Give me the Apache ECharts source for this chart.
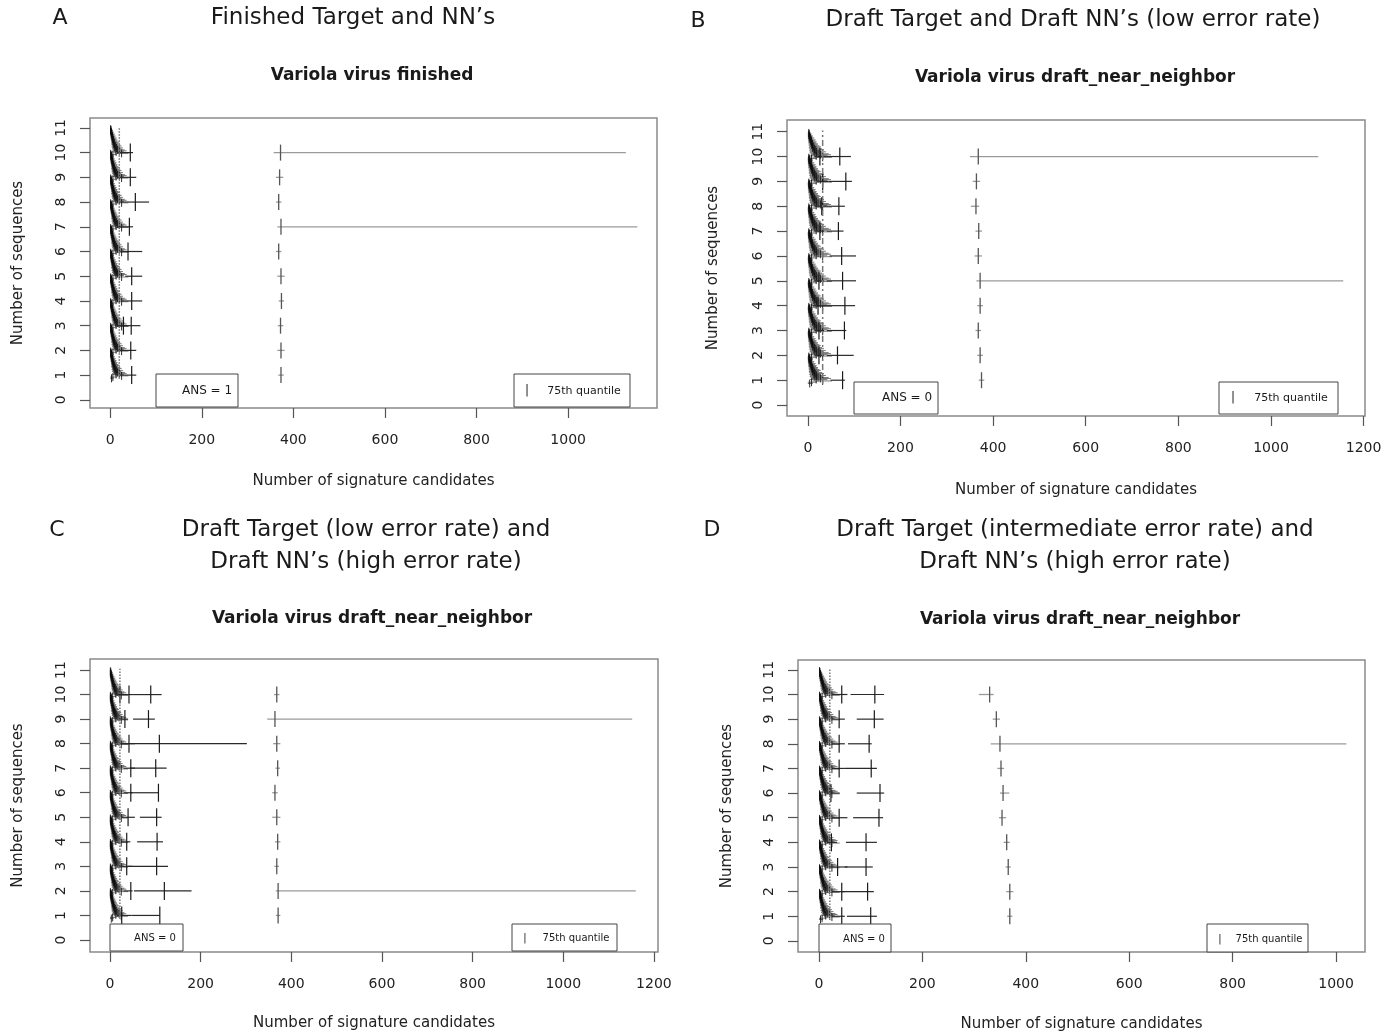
<!DOCTYPE html>
<html>
<head>
<meta charset="utf-8">
<title>Variola virus signature candidates</title>
<script src="https://cdn.jsdelivr.net/npm/echarts@6/dist/echarts.min.js"></script>
<style>html,body{margin:0;background:#fff}#main{width:1398px;height:1036px}</style>
</head>
<body>
<div id="main"></div>
<script>
// tick labels
var yTicks = [0, 1, 2, 3, 4, 5, 6, 7, 8, 9, 10, 11];
var xTicksA = [0, 200, 400, 600, 800, 1000];
var xTicksB = [0, 200, 400, 600, 800, 1000, 1200];
var xTicksC = [0, 200, 400, 600, 800, 1000, 1200];
var xTicksD = [0, 200, 400, 600, 800, 1000];

// small crosses stacked above each sequence row: [dy, quantile, low, high]
var clusterNarrow = [
  [0.95, 1, 0, 4], [0.91, 2, 0, 6], [0.87, 1, 0, 5], [0.83, 3, 0, 8],
  [0.79, 2, 0, 7], [0.75, 4, 1, 10], [0.71, 3, 0, 9], [0.67, 5, 1, 12],
  [0.63, 4, 1, 11], [0.59, 6, 1, 14], [0.55, 5, 1, 13], [0.51, 7, 2, 16],
  [0.47, 6, 2, 15], [0.43, 8, 2, 18], [0.39, 9, 3, 20], [0.35, 7, 2, 17],
  [0.31, 10, 3, 22], [0.27, 12, 4, 25], [0.23, 9, 3, 21], [0.19, 14, 5, 28],
  [0.15, 11, 4, 24], [0.11, 16, 6, 32], [0.07, 20, 8, 36], [0.03, 13, 5, 30],
  [-0.03, 25, 10, 40], [-0.08, 6, 0, 14], [-0.13, 3, 0, 8]
];
var clusterWide = [
  [0.95, 2, 0, 6], [0.91, 3, 0, 8], [0.87, 2, 0, 7], [0.83, 4, 0, 11],
  [0.79, 3, 0, 10], [0.75, 6, 1, 14], [0.71, 4, 0, 12], [0.67, 7, 1, 17],
  [0.63, 6, 1, 15], [0.59, 8, 1, 19], [0.55, 7, 1, 18], [0.51, 10, 2, 22],
  [0.47, 8, 2, 21], [0.43, 11, 2, 25], [0.39, 13, 3, 28], [0.35, 10, 2, 24],
  [0.31, 14, 3, 31], [0.27, 17, 4, 35], [0.23, 13, 3, 29], [0.19, 19, 5, 39],
  [0.15, 15, 4, 34], [0.11, 22, 6, 45], [0.07, 27, 8, 50], [0.03, 18, 5, 42],
  [-0.03, 32, 10, 52], [-0.08, 8, 0, 19], [-0.13, 4, 0, 11]
];

// larger crosses: [sequences, quantile, low, high]
var bigA = [
  [10, 44, 17, 50], [9, 44, 15, 57], [8, 55, 22, 85], [7, 42, 15, 50],
  [6, 39, 22, 70], [5, 47, 33, 70], [4, 47, 26, 70], [3, 46, 11, 66],
  [3, 29, 15, 40], [2, 45, 17, 57], [1, 47, 20, 57]
];
var quantA = [
  [10, 372, 357, 1126], [9, 370, 362, 378], [8, 368, 362, 374], [7, 373, 365, 1151],
  [6, 368, 362, 374], [5, 373, 365, 381], [4, 374, 368, 380], [3, 372, 366, 378],
  [2, 373, 365, 381], [1, 373, 367, 379]
];

var bigB = [
  [10, 69, 41, 93], [10, 26, 15, 41], [9, 82, 45, 95], [9, 32, 20, 45],
  [8, 67, 41, 80], [8, 30, 15, 41], [7, 66, 41, 77], [7, 26, 15, 35],
  [6, 73, 47, 104], [5, 75, 41, 104], [5, 24, 15, 35], [4, 80, 41, 102],
  [4, 22, 10, 41], [3, 79, 41, 83], [3, 24, 15, 35], [2, 64, 41, 99],
  [2, 24, 15, 35], [1, 75, 49, 80]
];
var quantB = [
  [10, 368, 350, 1102], [9, 364, 356, 372], [8, 363, 352, 370], [7, 369, 362, 376],
  [6, 368, 360, 376], [5, 372, 364, 1156], [4, 372, 366, 378], [3, 368, 362, 374],
  [2, 372, 366, 378], [1, 375, 369, 381]
];

var bigC = [
  [10, 90, 51, 114], [10, 42, 30, 51], [10, 22, 12, 32], [9, 85, 51, 99],
  [9, 33, 20, 40], [8, 109, 22, 302], [8, 42, 25, 55], [7, 101, 44, 125],
  [7, 46, 30, 55], [6, 107, 46, 107], [6, 46, 30, 50], [5, 103, 66, 114],
  [5, 40, 25, 55], [4, 104, 60, 117], [4, 37, 25, 45], [3, 103, 40, 128],
  [3, 37, 20, 50], [2, 120, 53, 180], [2, 46, 30, 50], [1, 110, 48, 110],
  [1, 26, 15, 48]
];
var quantC = [
  [10, 368, 362, 374], [9, 364, 347, 1152], [8, 368, 360, 376], [7, 370, 365, 375],
  [6, 364, 358, 370], [5, 368, 358, 376], [4, 370, 364, 376], [3, 368, 363, 373],
  [2, 371, 366, 1160], [1, 371, 366, 376]
];

var bigD = [
  [10, 108, 61, 126], [10, 44, 25, 55], [9, 107, 73, 125], [9, 39, 25, 50],
  [8, 97, 56, 102], [8, 39, 25, 50], [7, 101, 50, 112], [7, 39, 25, 50],
  [6, 118, 73, 126], [6, 23, 15, 40], [5, 116, 66, 124], [5, 39, 25, 55],
  [4, 91, 52, 112], [4, 24, 15, 35], [3, 91, 50, 104], [3, 36, 20, 55],
  [2, 94, 44, 106], [2, 44, 25, 50], [1, 100, 54, 112], [1, 44, 25, 50]
];
var quantD = [
  [10, 330, 309, 338], [9, 343, 336, 350], [8, 350, 332, 1020], [7, 352, 345, 358],
  [6, 356, 350, 368], [5, 354, 348, 362], [4, 363, 357, 369], [3, 366, 361, 371],
  [2, 369, 362, 376], [1, 369, 364, 374]
];

var rows = [1, 2, 3, 4, 5, 6, 7, 8, 9, 10];
// mean line position per panel
var meanA = 20, meanB = 32, meanC = 22, meanD = 21;

var FONT = '"DejaVu Sans", "Liberation Sans", Arial, sans-serif';

var panels = [
  { grid: { left: 90, top: 118, width: 567, height: 290 }, xMin: -44, xMax: 1194, yMin: -0.33, yMax: 11.4,
    xTicks: xTicksA, big: bigA, quant: quantA, cluster: clusterNarrow, mean: meanA, meanType: 'dotted', nameGapX: 66, nameGapY: 64 },
  { grid: { left: 787, top: 120, width: 578, height: 296 }, xMin: -45, xMax: 1203, yMin: -0.44, yMax: 11.47,
    xTicks: xTicksB, big: bigB, quant: quantB, cluster: clusterWide, mean: meanB, meanType: [6, 3, 2, 3], nameGapX: 67, nameGapY: 66 },
  { grid: { left: 90, top: 659, width: 568, height: 293 }, xMin: -44, xMax: 1209, yMin: -0.49, yMax: 11.45,
    xTicks: xTicksC, big: bigC, quant: quantC, cluster: clusterNarrow, mean: meanC, meanType: 'dotted', nameGapX: 64, nameGapY: 64 },
  { grid: { left: 798, top: 660, width: 567, height: 292 }, xMin: -40.6, xMax: 1056, yMin: -0.45, yMax: 11.4,
    xTicks: xTicksD, big: bigD, quant: quantD, cluster: clusterNarrow, mean: meanD, meanType: 'dotted', nameGapX: 65, nameGapY: 63 }
];

function crossRenderer(half, lineColor, tickColor, width) {
  return function (params, api) {
    var y = api.value(0);
    var q = api.coord([api.value(1), y]);
    var lo = api.coord([api.value(2), y]);
    var hi = api.coord([api.value(3), y]);
    return {
      type: 'group',
      children: [
        { type: 'line', shape: { x1: lo[0], y1: lo[1], x2: hi[0], y2: hi[1] },
          style: { stroke: lineColor, lineWidth: width } },
        { type: 'line', shape: { x1: q[0], y1: q[1] - half, x2: q[0], y2: q[1] + half },
          style: { stroke: tickColor, lineWidth: width } }
      ]
    };
  };
}

var grids = [], xAxes = [], yAxes = [], series = [];

panels.forEach(function (p, i) {
  grids.push(Object.assign({ show: true, borderColor: '#8a8a8a', borderWidth: 1.5, backgroundColor: '#fff' }, p.grid));
  xAxes.push({
    gridIndex: i, type: 'value', min: p.xMin, max: p.xMax,
    name: 'Number of signature candidates', nameLocation: 'middle', nameGap: p.nameGapX,
    nameTextStyle: { fontFamily: FONT, fontSize: 15, color: '#222' },
    axisLine: { show: false, onZero: false },
    axisTick: { show: true, length: 10, customValues: p.xTicks, lineStyle: { color: '#555', width: 1.2 } },
    axisLabel: { customValues: p.xTicks, margin: 25, fontFamily: FONT, fontSize: 14, color: '#222',
      formatter: function (v) { return String(v); } },
    splitLine: { show: false }
  });
  yAxes.push({
    gridIndex: i, type: 'value', min: p.yMin, max: p.yMax,
    name: 'Number of sequences', nameLocation: 'middle', nameGap: p.nameGapY,
    nameTextStyle: { fontFamily: FONT, fontSize: 15, color: '#222' },
    axisLine: { show: false, onZero: false },
    axisTick: { show: true, length: 10, customValues: yTicks, lineStyle: { color: '#555', width: 1.2 } },
    axisLabel: { customValues: yTicks, rotate: 90, margin: 22, fontFamily: FONT, fontSize: 14, color: '#222',
      formatter: function (v) { return String(v); } },
    splitLine: { show: false }
  });

  var clusterData = [];
  rows.forEach(function (r) {
    p.cluster.forEach(function (c) {
      clusterData.push([r + c[0], c[1], c[2], c[3]]);
    });
  });

  series.push({
    type: 'custom', name: 'cluster', xAxisIndex: i, yAxisIndex: i, clip: true,
    renderItem: crossRenderer(4, 'rgba(30,30,30,0.6)', 'rgba(10,10,10,0.85)', 1),
    encode: { x: [1, 2, 3], y: 0 }, data: clusterData, silent: true
  });
  series.push({
    type: 'line', name: 'mean', xAxisIndex: i, yAxisIndex: i, symbol: 'none', silent: true,
    lineStyle: { color: '#777', width: 1.5, type: p.meanType },
    data: [[p.mean, 0.85], [p.mean, 11.05]]
  });
  series.push({
    type: 'custom', name: 'signature sets', xAxisIndex: i, yAxisIndex: i, clip: true,
    renderItem: crossRenderer(9, '#2a2a2a', '#1a1a1a', 1.2),
    encode: { x: [1, 2, 3], y: 0 }, data: p.big
  });
  series.push({
    type: 'custom', name: '75th quantile', xAxisIndex: i, yAxisIndex: i, clip: true,
    renderItem: crossRenderer(8, '#9a9a9a', '#555', 1.3),
    encode: { x: [1, 2, 3], y: 0 }, data: p.quant
  });
});

function txt(x, y, s, size, weight, align) {
  return {
    type: 'text', x: x, y: y, silent: true,
    style: { text: s, fontFamily: FONT, fontSize: size, fontWeight: weight || 'normal',
      fill: '#1a1a1a', textAlign: align || 'center', textVerticalAlign: 'middle' }
  };
}
function box(x, y, w, h) {
  return { type: 'rect', shape: { x: x, y: y, width: w, height: h }, silent: true,
    style: { fill: '#fff', stroke: '#444', lineWidth: 1 }, z: 10 };
}
function boxText(x, y, s, size, align) {
  var t = txt(x, y, s, size, 'normal', align);
  t.z = 11;
  return t;
}

var graphics = [
  txt(60, 18, 'A', 22), txt(353, 18, 'Finished Target and NN\u2019s', 23),
  txt(698, 21, 'B', 22), txt(1073, 20, 'Draft Target and Draft NN\u2019s (low error rate)', 23),
  txt(57, 530, 'C', 22), txt(366, 530, 'Draft Target (low error rate) and', 23),
  txt(366, 562, 'Draft NN\u2019s (high error rate)', 23),
  txt(712, 530, 'D', 22), txt(1075, 530, 'Draft Target (intermediate error rate) and', 23),
  txt(1075, 562, 'Draft NN\u2019s (high error rate)', 23),
  txt(372, 76, 'Variola virus finished', 17, 'bold'),
  txt(1075, 78, 'Variola virus draft_near_neighbor', 17, 'bold'),
  txt(372, 619, 'Variola virus draft_near_neighbor', 17, 'bold'),
  txt(1080, 620, 'Variola virus draft_near_neighbor', 17, 'bold'),

  box(156, 374, 82, 33), boxText(207, 391, 'ANS = 1', 12),
  box(514, 374, 116, 33), boxText(527, 391, '|', 12), boxText(584, 391, '75th quantile', 11),
  box(854, 382, 84, 32), boxText(907, 398, 'ANS = 0', 12),
  box(1219, 382, 119, 32), boxText(1233, 398, '|', 12), boxText(1291, 398, '75th quantile', 11),
  box(110, 924, 73, 27), boxText(155, 938, 'ANS = 0', 10),
  box(512, 924, 105, 27), boxText(525, 938, '|', 10), boxText(576, 938, '75th quantile', 10),
  box(819, 924, 72, 28), boxText(864, 939, 'ANS = 0', 10),
  box(1207, 924, 101, 28), boxText(1220, 939, '|', 10), boxText(1269, 939, '75th quantile', 10)
];

var chart = echarts.init(document.getElementById('main'));
chart.setOption({
  backgroundColor: '#fff',
  animation: false,
  grid: grids,
  xAxis: xAxes,
  yAxis: yAxes,
  series: series,
  graphic: { elements: graphics }
});
</script>
</body>
</html>
